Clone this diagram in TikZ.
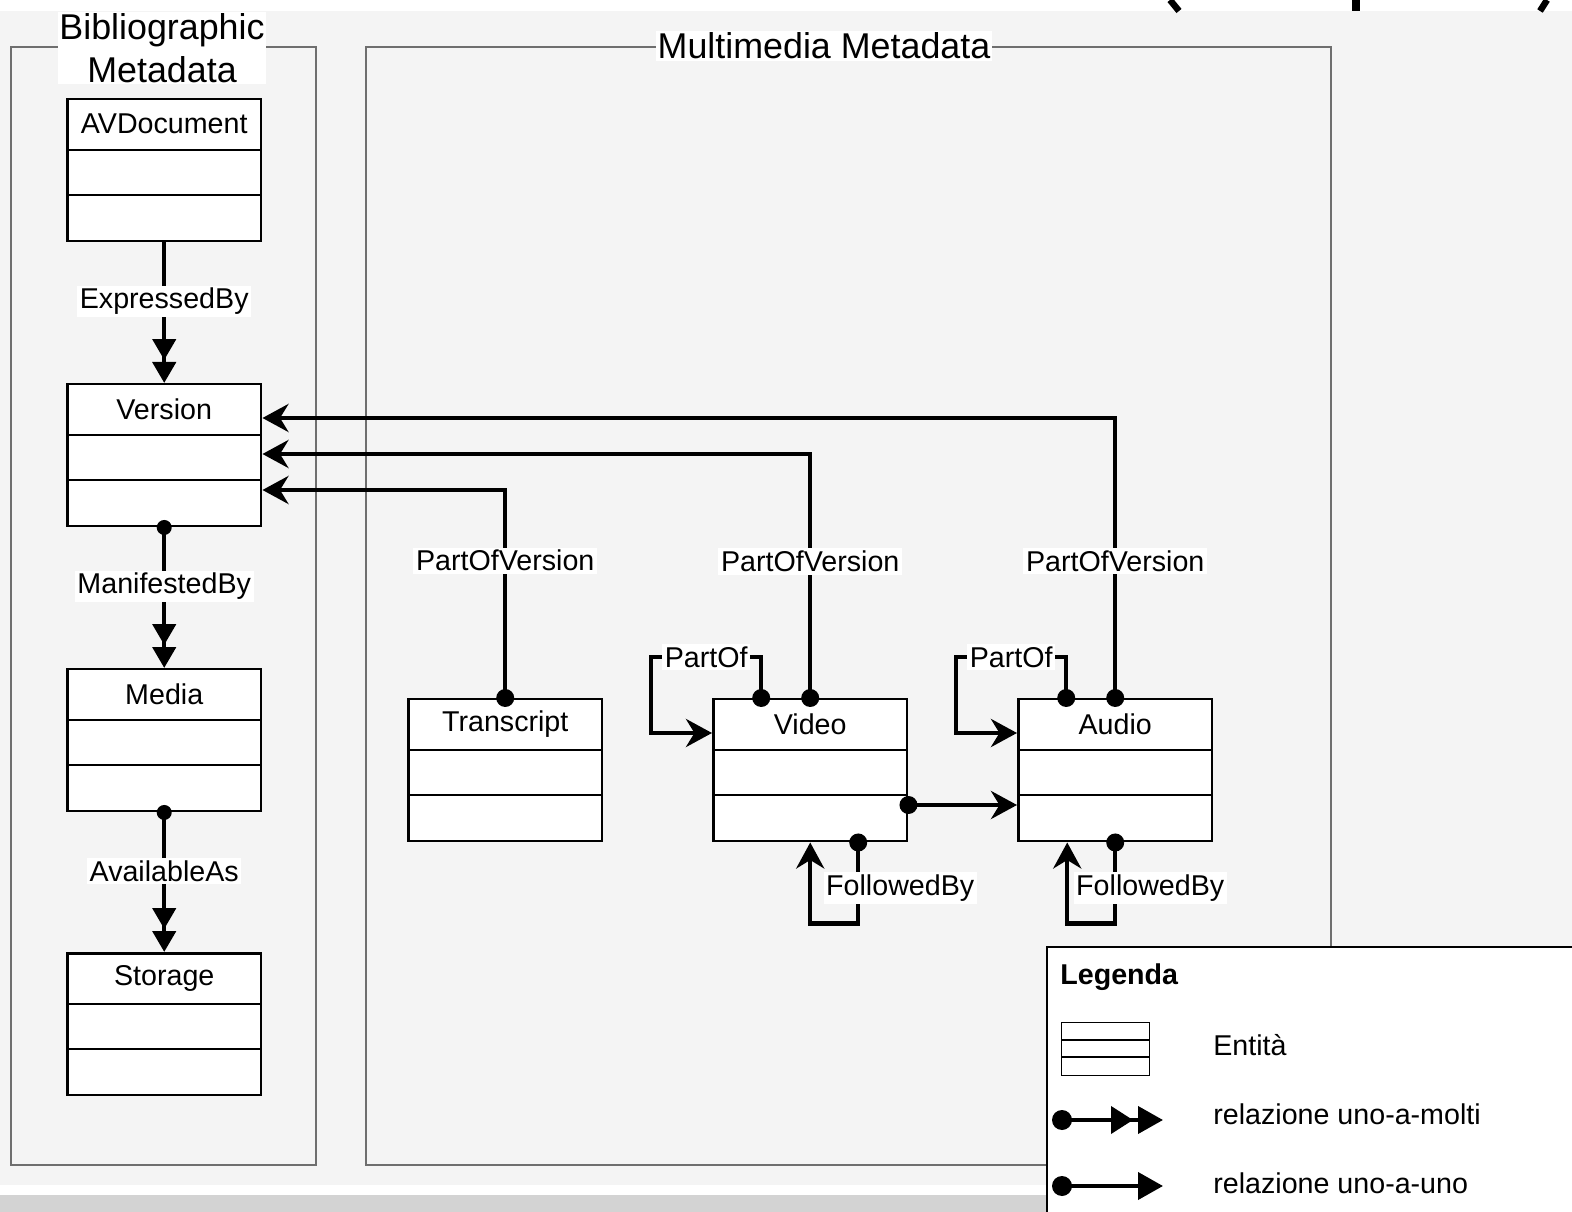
\documentclass[tikz,border=0pt]{standalone}
\usepackage{fontspec}
\setmainfont{Liberation Sans}
\usetikzlibrary{arrows.meta,calc}
\definecolor{sfondo}{HTML}{F4F4F4}
\definecolor{bordo}{HTML}{6E6E6E}
\definecolor{fascia}{HTML}{D3D3D3}
\tikzset{
  entbox/.style={draw, line width=0.05cm, fill=white, anchor=north west,
    minimum width=3.88cm, minimum height=2.84cm, inner sep=0pt},
  entname/.style={font=\fontsize{16.3}{19}\selectfont, inner sep=0pt},
  group/.style={draw=bordo, line width=0.03cm},
  grouptitle/.style={fill=white, inner sep=1pt, align=center,
    font=\fontsize{20.4}{24.5}\selectfont},
  lbl/.style={fill=white, inner sep=1.5pt, font=\fontsize{16.3}{19}\selectfont},
  legtext/.style={anchor=west, inner sep=0pt, font=\fontsize{16.3}{19}\selectfont},
  molti/.style={line width=0.09cm,
    -{Triangle[length=0.42cm,width=0.46cm,sep=0.04cm]Triangle[length=0.42cm,width=0.46cm]}},
  uno/.style={line width=0.09cm, -{Stealth[length=0.52cm,width=0.56cm]}},
  dot/.style={circle, fill, inner sep=0pt, minimum size=0.36cm}
}
% entita: nome, x, y (angolo in alto a sinistra), testo
\newcommand{\entita}[4]{%
  \node[entbox] (#1) at (#2,#3) {};
  \node[entname] at ($(#1.north)+(0,26)$) {#4};
  \draw[line width=0.05cm] ($(#1.north west)+(0,52)$) -- ($(#1.north east)+(0,52)$)
    ($(#1.north west)+(0,97)$) -- ($(#1.north east)+(0,97)$);
}

\begin{document}
\begin{tikzpicture}[x=0.02cm, y=-0.02cm]
  \useasboundingbox (0,0) rectangle (1572,1212);
  % sfondo
  \fill[white] (0,0) rectangle (1572,1212);
  \fill[sfondo] (0,11) rectangle (1572,1185);
  \fill[fascia] (0,1195) rectangle (1047,1212);
  \draw[line width=0.13cm] (1170,0) -- (1179,11);
  \draw[line width=0.16cm] (1356,0) -- (1356,11);
  \draw[line width=0.13cm] (1547,0) -- (1540,11);

  % gruppi
  \draw[group] (11,47) rectangle (316,1165);
  \draw[group] (366,47) rectangle (1331,1165);
  \node[grouptitle] (biblio) at (162,48) {Bibliographic\\Metadata};
  \node[grouptitle] (multi) at (824,46) {Multimedia Metadata};

  % entita
  \entita{avdoc}{66}{98}{AVDocument}
  \entita{version}{66}{383}{Version}
  \entita{media}{66}{668}{Media}
  \entita{storage}{66}{952}{Storage}
  \entita{transcript}{407}{698}{Transcript}
  \entita{video}{712}{698}{Video}
  \entita{audio}{1017}{698}{Audio}

  % relazioni
  \draw[molti] (avdoc.south) -- node[lbl, pos=0.42] {ExpressedBy} (version.north);
  \draw[molti] (version.south) node[dot, minimum size=0.3cm] {} -- node[lbl, pos=0.42] {ManifestedBy} (media.north);
  \draw[molti] (media.south) node[dot, minimum size=0.3cm] {} -- node[lbl, pos=0.42] {AvailableAs} (storage.north);

  \draw[uno] (transcript.north) node[dot] {} |- node[lbl, pos=0.33] {PartOfVersion}
    ($(version.north east)+(0,107)$);
  \draw[uno] (video.north) node[dot] {} |- node[lbl, pos=0.28] {PartOfVersion}
    ($(version.north east)+(0,71)$);
  \draw[uno] (audio.north) node[dot] {} |- node[lbl, pos=0.245] {PartOfVersion}
    ($(version.north east)+(0,35)$);

  \draw[uno] ($(video.north)+(-49,0)$) node[dot] {} -- ++(0,-41)
    -- node[lbl] {PartOf} ++(-110,0) |- ($(video.north west)+(0,35)$);
  \draw[uno] ($(audio.north)+(-49,0)$) node[dot] {} -- ++(0,-41)
    -- node[lbl] {PartOf} ++(-110,0) |- ($(audio.north west)+(0,35)$);

  \draw[uno] ($(video.south)+(48,0)$) node[dot] {}
    -- node[lbl, pos=0.56, xshift=0.84cm] {FollowedBy} ++(0,81) -| (video.south);
  \draw[uno] (audio.south) node[dot] {}
    -- node[lbl, pos=0.56, xshift=0.7cm] {FollowedBy} ++(0,81) -| ($(audio.south)+(-48,0)$);

  \draw[uno] ($(video.north east)+(0,107)$) node[dot] {} -- ($(audio.north west)+(0,107)$);

  % legenda
  \fill[white] (1047,947) rectangle (1572,1212);
  \draw[line width=0.025cm] (1572,947) -- (1047,947) -- (1047,1212);
  \node[legtext, font=\bfseries\fontsize{16.3}{19}\selectfont] (legenda) at (1060,977) {Legenda};
  \node[draw, line width=0.025cm, fill=white, anchor=north west, minimum width=1.76cm,
    minimum height=1.06cm, inner sep=0pt] (legent) at (1061,1022) {};
  \draw[line width=0.025cm] ($(legent.north west)+(0,18)$) -- ($(legent.north east)+(0,18)$)
    ($(legent.north west)+(0,35)$) -- ($(legent.north east)+(0,35)$);
  \node[legtext] (tent) at (1213,1045) {Entità};
  \coordinate (mA) at (1062,1120);
  \coordinate (mB) at (1163,1120);
  \draw[line width=0.08cm, -{Triangle[length=0.44cm,width=0.54cm,sep=0.1cm]Triangle[length=0.5cm,width=0.54cm]}]
    (mA) node[dot, minimum size=0.4cm] {} -- (mB);
  \node[legtext] (tmolti) at (1213,1114) {relazione uno-a-molti};
  \coordinate (uA) at (1062,1186);
  \coordinate (uB) at (1163,1186);
  \draw[line width=0.08cm, -{Triangle[length=0.5cm,width=0.54cm]}]
    (uA) node[dot, minimum size=0.4cm] {} -- (uB);
  \node[legtext] (tuno) at (1213,1183) {relazione uno-a-uno};
\end{tikzpicture}
\end{document}
